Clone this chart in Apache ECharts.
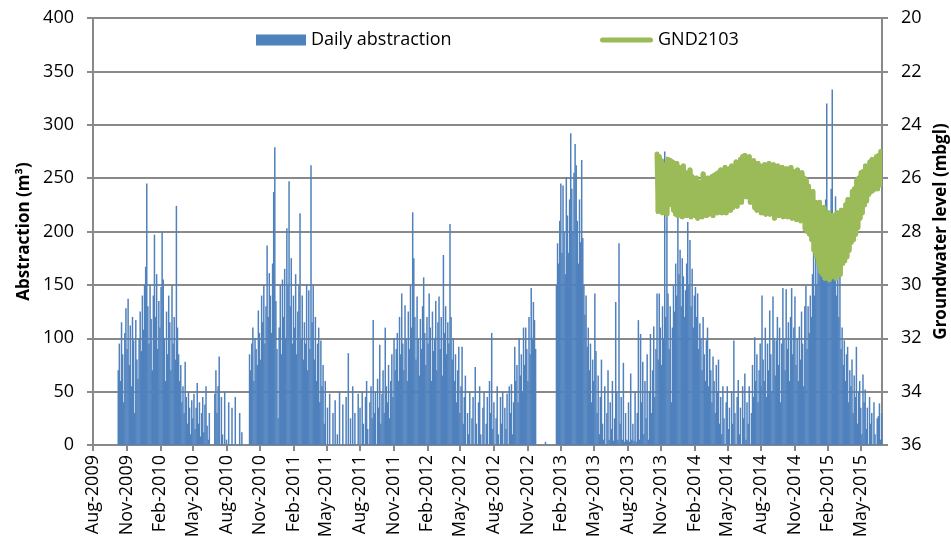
<!DOCTYPE html>
<html><head><meta charset="utf-8">
<script src="https://cdn.jsdelivr.net/npm/echarts@6/dist/echarts.min.js"></script>
<style>html,body{margin:0;padding:0;background:#fff}#c{width:951px;height:548px}</style>
</head><body><div id="c"></div>
<script>
// ---- axis definition ----
const axisStart = '2009-08-01';
const axisEnd = '2015-06-28';
const tickDates = ['2009-08-01','2009-11-01','2010-02-01','2010-05-01','2010-08-01','2010-11-01','2011-02-01','2011-05-01','2011-08-01','2011-11-01','2012-02-01','2012-05-01','2012-08-01','2012-11-01','2013-02-01','2013-05-01','2013-08-01','2013-11-01','2014-02-01','2014-05-01','2014-08-01','2014-11-01','2015-02-01','2015-05-01'];
const tickLabels = ['Aug-2009','Nov-2009','Feb-2010','May-2010','Aug-2010','Nov-2010','Feb-2011','May-2011','Aug-2011','Nov-2011','Feb-2012','May-2012','Aug-2012','Nov-2012','Feb-2013','May-2013','Aug-2013','Nov-2013','Feb-2014','May-2014','Aug-2014','Nov-2014','Feb-2015','May-2015'];

// ---- daily abstraction (m3), one value every 3 days, per season starting 1 Aug ----
const stepDays = 3;
const abs2009Start = '2009-08-01';
const abs2009 = [0,0,0,0,0,0,0,0,0,0,0,0,0,0,0,0,0,0,0,0,0,0,0,
70,95,60,115,85,40,105,128,90,137,
75,112,55,120,98,30,117,80,62,100,
125,88,140,108,150,167,245,130,95,150,
118,70,140,197,120,160,90,135,110,148,
200,155,100,60,125,85,140,115,70,150,
95,120,80,224,110,85,60,75,40,55,
30,78,45,20,50,35,10,42,25,48,
15,35,58,20,40,8,30,45,12,38,
55,18,5,30,0,0,0,0,48,70,
30,55,83,0,45,10,0,50,0];
const abs2010Start = '2010-08-01';
const abs2010 = [5,0,40,0,0,35,0,0,45,0,0,0,30,0,12,0,0,0,0,0,0,
85,70,95,110,60,100,90,75,126,105,80,140,115,150,95,130,187,120,161,140,
105,170,237,279,135,90,25,110,150,85,155,120,165,100,203,150,247,130,175,95,
140,110,160,85,125,150,217,100,140,80,115,
95,150,70,145,90,262,115,150,80,120,60,95,110,40,98,55,75,20,60,0,
35,0,48,0,0,30,0,42,0,10,0,50,0,0,38,0,0,45,0,86,0,25,0,55,0,30,0,0,48,0];
const abs2011Start = '2011-08-01';
const abs2011 = [35,0,50,20,0,45,60,15,0,40,55,25,117,30,50,0,62,35,94,20,
48,70,30,110,55,40,75,25,60,85,45,100,70,90,
105,60,120,85,142,95,70,131,100,60,125,90,150,110,218,175,120,80,139,100,
65,118,90,130,157,105,75,120,95,142,110,60,125,88,100,135,70,115,139,90,
120,65,178,105,130,85,115,95,207,120,80,100,60,85,40,70,92,30,55,92,
20,45,65,0,30,10,50,0,25,45,0,73,20,0,40,55,10,0,35,50,
0,20,45,0,60,30,105,15];
const abs2012Start = '2012-08-01';
const abs2012 = [40,0,25,55,10,0,45,20,50,0,35,15,48,0,55,30,57,10,40,92,
60,75,40,100,65,85,50,110,75,110,90,60,120,85,147,100,134,117,90,
0,0,0,0,0,0,0,0,3,0,0,0,0,0,0,0,0,0,
150,189,170,210,245,180,243,200,160,251,215,180,230,292,240,200,255,282,262,210,
170,230,190,267,194,150,122,140,92,110,70,95,40,80,60,142,88,30,65,10,
45,80,20,5,55,0,30,70,5,40,15,60,4,25,134,50,5,189,20,45,
5,77,3,30,5];
const abs2013Start = '2013-08-01';
const abs2013 = [4,40,3,67,5,20,4,50,3,30,117,5,104,40,78,10,60,25,85,5,
50,104,30,70,111,45,90,142,80,142,110,75,130,100,275,120,270,142,90,130,
40,110,150,125,170,140,214,160,183,130,175,158,120,145,170,209,150,192,130,165,
110,140,148,120,142,90,114,100,70,120,85,60,98,110,55,90,70,40,83,60,
30,75,50,80,20,45,10,55,25,0,40,55,15,35,0,50,20,98,30,0,
45,61,10,35,0,55,25,67,5,40,20,55,0,30,75,45,101,60,85,40,
70,95];
const abs2014Start = '2014-08-01';
const abs2014 = [55,140,80,60,110,45,95,70,126,85,50,139,100,65,98,120,75,110,40,95,
147,100,70,146,90,115,60,120,147,85,110,139,75,100,60,111,80,125,95,55,
130,149,90,130,105,140,120,160,180,140,177,150,200,165,223,190,174,210,160,230,
320,195,208,170,240,333,185,160,233,140,186,120,167,90,110,75,98,60,85,92,
40,70,55,80,30,65,45,92,20,50,60,35,10,66,40,52,15,35,0,45,
20,30,0,40,10,0,25,27,39,5,30];

// ---- groundwater level GND2103 (mbgl), one value every 3 days ----
const gwStart = '2013-10-21';
const gwLevel = [25.1,27.25,25.2,27.1,25.35,27.3,25.6,27.2,25.5,27.35,25.3,27.0,25.35,26.95,25.4,27.2,25.6,27.35,25.45,27.4,
25.6,27.3,25.75,27.45,25.55,27.2,25.8,27.4,25.9,27.35,25.7,27.45,25.95,27.25,26.1,27.4,26.0,27.5,26.15,27.3,
26.25,27.45,25.85,27.2,26.2,27.4,26.0,27.35,26.1,27.25,25.95,27.4,25.9,27.2,25.85,27.3,25.8,27.1,25.7,27.3,
25.75,27.15,25.6,27.3,25.7,27.05,25.65,27.2,25.55,27.1,25.6,26.9,25.4,27.05,25.5,26.85,25.3,26.9,25.2,26.6,
25.15,26.7,25.3,26.55,25.2,26.9,25.45,26.8,25.35,27.1,25.6,27.2,25.45,27.0,25.55,27.3,25.65,27.1,25.5,27.35,
25.6,27.15,25.45,27.35,25.7,27.2,25.5,27.5,25.65,27.25,25.55,27.4,25.75,27.3,25.6,27.45,25.7,27.2,25.65,27.45,
25.8,27.35,25.6,27.5,25.75,27.3,25.85,27.55,25.7,27.4,25.9,27.6,25.8,27.45,26.0,27.9,26.1,28.0,26.3,28.1,
26.6,28.3,26.5,28.7,26.9,28.9,27.1,29.2,26.9,29.5,27.3,29.6,27.1,29.75,27.5,29.6,27.3,29.8,27.6,29.7,
27.4,29.5,27.6,29.75,27.3,29.4,27.45,29.6,27.2,29.2,27.3,29.1,27.0,28.95,26.8,28.7,26.9,28.4,26.5,28.3,
26.4,28.1,26.1,27.85,26.0,27.5,25.8,27.3,25.75,27.0,25.55,26.85,25.6,26.6,25.4,26.5,25.3,26.45,25.35,26.2,
25.2,26.4,25.15,26.25,25.0,26.1];

// ---- build ----
function dayOf(s){const p=s.split('-').map(Number);const a=axisStart.split('-').map(Number);
  return Math.round((Date.UTC(p[0],p[1]-1,p[2])-Date.UTC(a[0],a[1]-1,a[2]))/86400000);}
function seriesPts(start, arr){const d0=dayOf(start);return arr.map((v,i)=>[d0+i*stepDays,v]);}
const absData = [].concat(
  seriesPts(abs2009Start,abs2009),seriesPts(abs2010Start,abs2010),seriesPts(abs2011Start,abs2011),
  seriesPts(abs2012Start,abs2012),seriesPts(abs2013Start,abs2013),seriesPts(abs2014Start,abs2014));
const gwData = seriesPts(gwStart,gwLevel);
const tickPos = tickDates.map(dayOf);
const labelMap = {}; tickPos.forEach((p,i)=>labelMap[p]=tickLabels[i]);

const FONT = 'Open Sans';
const GRAY = '#898989';
const GREEN = '#9BBB59';

// groundwater line drawn segment by segment through the axis scales
function renderGw(params, api){
  const i = params.dataIndex;
  const prev = i > 0 ? gwData[i-1] : gwData[0];
  const p0 = api.coord(prev);
  const p1 = api.coord([api.value(0), api.value(1)]);
  return {type:'line', shape:{x1:p0[0],y1:p0[1],x2:p1[0],y2:p1[1]},
    style:{stroke:GREEN,lineWidth:5,lineCap:'round',fill:null}};
}

const chart = echarts.init(document.getElementById('c'), null, {renderer:'canvas'});
chart.setOption({
  animation:false,
  backgroundColor:'#fff',
  grid:{left:93,right:69,top:18,bottom:103,outerBoundsMode:'none',containLabel:false},
  legend:[
    {data:['Daily abstraction'],left:251,top:26,itemWidth:50,itemHeight:11,icon:'rect',
     textStyle:{fontFamily:FONT,fontSize:18,color:'#000'},itemGap:5},
    {data:['GND2103'],left:595,top:26,itemWidth:53,itemHeight:5,
     icon:'path://M2.5,0 L50.5,0 A2.5,2.5 0 0 1 50.5,5 L2.5,5 A2.5,2.5 0 0 1 2.5,0 Z',
     itemStyle:{color:GREEN},
     textStyle:{fontFamily:FONT,fontSize:18,color:'#000'},itemGap:5}
  ],
  xAxis:{type:'value',min:0,max:dayOf(axisEnd),
    axisLine:{show:true,lineStyle:{color:GRAY,width:2}},
    axisTick:{show:true,length:6,lineStyle:{color:GRAY,width:2},customValues:tickPos},
    axisLabel:{customValues:tickPos,rotate:90,margin:10,fontFamily:FONT,fontSize:18,color:'#000',
      formatter:v=>labelMap[v]||''},
    splitLine:{show:false}},
  yAxis:[
    {type:'value',min:0,max:400,interval:50,position:'left',
     name:'Abstraction (m³)',nameLocation:'middle',nameRotate:90,nameGap:58,
     nameTextStyle:{fontFamily:FONT,fontSize:17,fontWeight:'bold',color:'#000'},
     axisLine:{show:true,lineStyle:{color:GRAY,width:2}},
     axisTick:{show:true,length:6,lineStyle:{color:GRAY,width:2}},
     axisLabel:{margin:19,fontFamily:FONT,fontSize:18,color:'#000'},
     splitLine:{show:true,lineStyle:{color:GRAY,width:2}}},
    {type:'value',min:20,max:36,interval:2,inverse:true,position:'right',
     name:'Groundwater level (mbgl)',nameLocation:'middle',nameRotate:90,nameGap:49,
     nameTextStyle:{fontFamily:FONT,fontSize:17,fontWeight:'bold',color:'#000'},
     axisLine:{show:true,lineStyle:{color:GRAY,width:2}},
     axisTick:{show:true,length:6,lineStyle:{color:GRAY,width:2}},
     axisLabel:{margin:19,fontFamily:FONT,fontSize:18,color:'#000'},
     splitLine:{show:false}}
  ],
  series:[
    {name:'Daily abstraction',type:'bar',xAxisIndex:0,yAxisIndex:0,data:absData,
     barWidth:1.5,itemStyle:{color:'#4F81BD'},z:2},
    {name:'GND2103',type:'custom',xAxisIndex:0,yAxisIndex:1,data:gwData,
     encode:{x:0,y:1},renderItem:renderGw,itemStyle:{color:GREEN},clip:true,z:3}
  ]
});
</script></body></html>
